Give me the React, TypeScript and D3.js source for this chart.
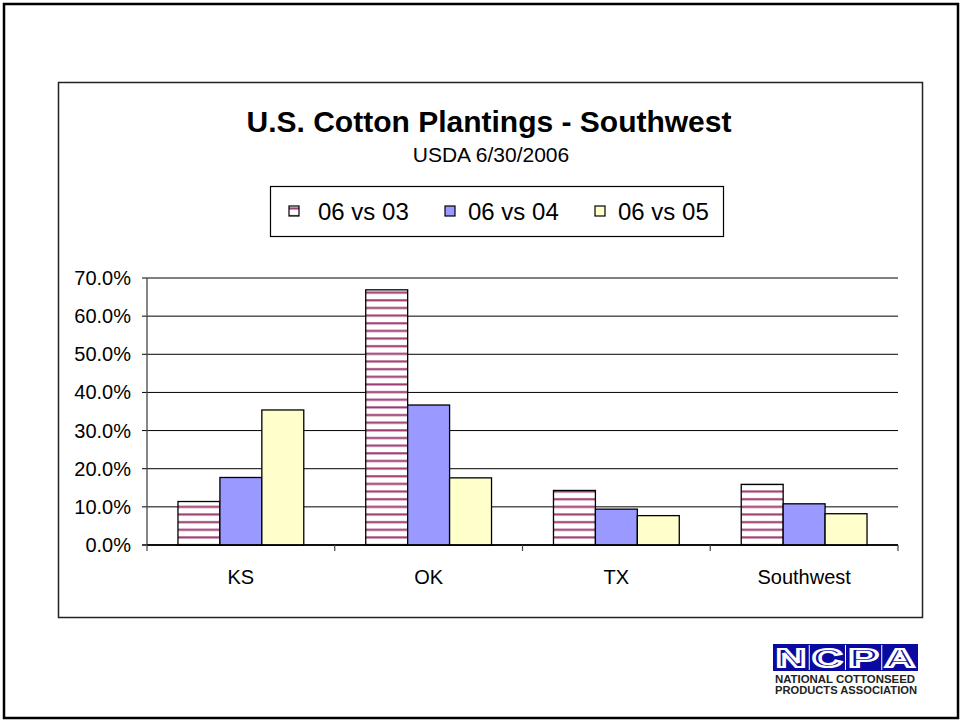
import * as d3 from 'd3'

const categories = ['KS', 'OK', 'TX', 'Southwest']
const seriesNames = ['06 vs 03', '06 vs 04', '06 vs 05']
const vs03 = [11.4, 66.9, 14.3, 15.9]
const vs04 = [17.7, 36.7, 9.4, 10.8]
const vs05 = [35.4, 17.6, 7.7, 8.2]
const yTicks = [0, 10, 20, 30, 40, 50, 60, 70]

const fills = ['url(#stripes)', '#9999ff', '#ffffcc']
const font = 'Arial, "Liberation Sans", sans-serif'

const App = () => {
  const width = 961
  const height = 721
  const left = 147
  const right = 898
  const top = 278
  const bottom = 545

  const series = [vs03, vs04, vs05]

  const y = d3.scaleLinear().domain([0, 70]).range([bottom, top])
  const x0 = d3
    .scaleBand()
    .domain(categories)
    .range([left, right])
    .paddingInner(0.33)
    .paddingOuter(0.165)
  const x1 = d3
    .scaleBand()
    .domain(seriesNames)
    .range([0, x0.bandwidth()])
  const step = (right - left) / categories.length

  const bars = categories.flatMap((cat, ci) =>
    series.map((vals, si) => (
      <rect
        key={cat + si}
        x={(x0(cat) || 0) + (x1(seriesNames[si]) || 0)}
        y={y(vals[ci])}
        width={x1.bandwidth()}
        height={bottom - y(vals[ci])}
        fill={fills[si]}
        stroke='#000'
        strokeWidth={1.3}
      />
    ))
  )

  const legendItems = [
    { sx: 289, tx: 318 },
    { sx: 445, tx: 468 },
    { sx: 595, tx: 618 }
  ]

  const logoCells = ['N', 'C', 'P', 'A']

  return (
    <svg
      width={width}
      height={height}
      style={{ position: 'absolute', left: 0, top: 0, background: '#fff' }}
      fontFamily={font}
    >
      <defs>
        <pattern
          id='stripes'
          patternUnits='userSpaceOnUse'
          x={0}
          y={bottom - 1.2}
          width={10}
          height={7.65}
        >
          <rect x={0} y={0} width={10} height={7.65} fill='#fff' />
          <rect x={0} y={0} width={10} height={2.6} fill='#c98fb0' />
          <rect x={0} y={0.6} width={10} height={1.4} fill='#9a3a6e' />
        </pattern>
      </defs>

      {/* outer frame */}
      <rect x={4} y={4} width={954} height={714} fill='#fff' stroke='#000' strokeWidth={2.5} />
      {/* chart area frame */}
      <rect x={58.5} y={82.5} width={864} height={535} fill='#fff' stroke='#222' strokeWidth={1.5} />

      <text x={489} y={132} textAnchor='middle' fontSize={30} fontWeight='bold'>
        U.S. Cotton Plantings - Southwest
      </text>
      <text x={491} y={162} textAnchor='middle' fontSize={21}>
        USDA 6/30/2006
      </text>

      {/* legend */}
      <rect x={270.5} y={186.5} width={453} height={50} fill='#fff' stroke='#000' strokeWidth={1.2} />
      {legendItems.map((it, i) => (
        <g key={seriesNames[i]}>
          <rect x={it.sx} y={206} width={10} height={10} fill={fills[i]} stroke='#000' strokeWidth={1.2} />
          <text x={it.tx} y={220} fontSize={24}>
            {seriesNames[i]}
          </text>
        </g>
      ))}

      {/* gridlines */}
      {yTicks.map((t) => (
        <g key={t}>
          <line
            x1={left - 5}
            x2={right}
            y1={y(t)}
            y2={y(t)}
            stroke='#000'
            strokeWidth={t === 0 ? 1.3 : 1}
          />
          <text x={131} y={y(t) + 7} textAnchor='end' fontSize={20}>
            {t.toFixed(1) + '%'}
          </text>
        </g>
      ))}

      {bars}

      {/* axes */}
      <line x1={left} x2={left} y1={top} y2={bottom} stroke='#444' strokeWidth={1.3} />
      <line x1={left} x2={right} y1={bottom} y2={bottom} stroke='#000' strokeWidth={1.3} />
      {d3.range(categories.length + 1).map((i) => (
        <line
          key={i}
          x1={left + i * step}
          x2={left + i * step}
          y1={bottom}
          y2={bottom + 6}
          stroke='#444'
          strokeWidth={1.2}
        />
      ))}
      {categories.map((cat) => (
        <text
          key={cat}
          x={(x0(cat) || 0) + x0.bandwidth() / 2}
          y={584}
          textAnchor='middle'
          fontSize={20}
        >
          {cat}
        </text>
      ))}

      {/* NCPA logo */}
      <rect x={773} y={644} width={145} height={27} fill='#0a0aa0' />
      {logoCells.map((c, i) => (
        <g key={c}>
          {i > 0 && (
            <line
              x1={773 + i * 36.25}
              x2={773 + i * 36.25}
              y1={645}
              y2={670}
              stroke='#fff'
              strokeWidth={1}
            />
          )}
          <text
            x={773 + i * 36.25 + 18.1}
            y={667}
            textAnchor='middle'
            fontSize={26}
            fill='#0a0aa0'
            stroke='#fff'
            strokeWidth={2.2}
            fontWeight='bold'
            textLength={30}
            lengthAdjust='spacingAndGlyphs'
          >
            {c}
          </text>
        </g>
      ))}
      <text
        x={775}
        y={683}
        fontSize={10.5}
        fontWeight='bold'
        fill='#222'
        textLength={140}
        lengthAdjust='spacingAndGlyphs'
      >
        NATIONAL COTTONSEED
      </text>
      <text
        x={775}
        y={694}
        fontSize={10.5}
        fontWeight='bold'
        fill='#222'
        textLength={142}
        lengthAdjust='spacingAndGlyphs'
      >
        PRODUCTS ASSOCIATION
      </text>
    </svg>
  )
}

export default App
